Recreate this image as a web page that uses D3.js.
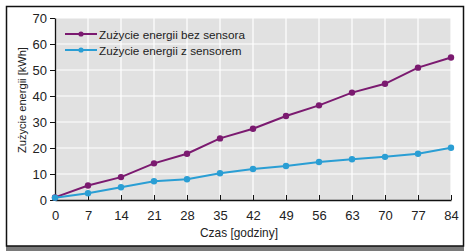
<!DOCTYPE html>
<html>
<head>
<meta charset="utf-8">
<script src="https://cdn.jsdelivr.net/npm/d3@7"></script>
<style>
  body { margin: 0; background: #fff; }
  svg { display: block; font-family: "Liberation Sans Narrow", "Liberation Sans", Arial, sans-serif; }
</style>
</head>
<body>
<div id="chart"></div>
<script>
const hours = [0, 7, 14, 21, 28, 35, 42, 49, 56, 63, 70, 77, 84];
const bezSensora = [1.0, 5.6, 8.8, 14.1, 17.8, 23.7, 27.4, 32.3, 36.4, 41.3, 44.7, 50.9, 54.8];
const zSensorem = [0.9, 2.6, 4.9, 7.2, 8.0, 10.3, 11.9, 13.1, 14.6, 15.7, 16.6, 17.8, 20.1];
const yTicks = [0, 10, 20, 30, 40, 50, 60, 70];
const seriesNames = ["Zużycie energii bez sensora", "Zużycie energii z sensorem"];
const seriesColors = ["#7b1a70", "#2a9ed4"];

const width = 470, height = 251;
const margin = { top: 18, right: 19, bottom: 51, left: 55 };
const innerWidth = width - margin.left - margin.right;
const innerHeight = height - margin.top - margin.bottom;

// shrink/grow a text's font so it spans roughly the given width
function fitText(sel, target) {
    const w = sel.node().getComputedTextLength();
    const fs = parseFloat(sel.style("font-size"));
    sel.style("font-size", (fs * target / w).toFixed(2) + "px");
}

const svg = d3.select("#chart").append("svg").attr("width", width).attr("height", height);

// frame with shadow at the bottom
svg.append("rect").attr("x", 6).attr("y", 246).attr("width", 458).attr("height", 5).attr("fill", "#7a7a7a");
svg.append("rect").attr("x", 6.5).attr("y", 6.5).attr("width", 457).attr("height", 239.5)
    .attr("fill", "#fff").attr("stroke", "#111").attr("stroke-width", 1.5);

const chart = svg.append("g").attr("transform", `translate(${margin.left},${margin.top})`);

const x = d3.scaleLinear().domain([0, 84]).range([0, innerWidth]);
const y = d3.scaleLinear().domain([0, 70]).range([innerHeight, 0]);

chart.append("rect").attr("width", innerWidth).attr("height", innerHeight).attr("fill", "#e1e1e1");

chart.append("g").selectAll("line").data(hours.slice(1)).enter().append("line")
    .attr("x1", d => x(d)).attr("x2", d => x(d)).attr("y1", 0).attr("y2", innerHeight)
    .attr("stroke", "#fff").attr("stroke-width", 1.2);
chart.append("g").selectAll("line").data(yTicks.slice(1)).enter().append("line")
    .attr("x1", 0).attr("x2", innerWidth).attr("y1", d => y(d)).attr("y2", d => y(d))
    .attr("stroke", "#fff").attr("stroke-width", 1.2);

const xAxis = chart.append("g").attr("transform", `translate(0,${innerHeight})`)
    .call(d3.axisBottom(x).tickValues(hours).tickSize(-5).tickPadding(11).tickSizeOuter(0));
const yAxis = chart.append("g")
    .call(d3.axisLeft(y).tickValues(yTicks).tickSize(5).tickPadding(3).tickSizeOuter(0));
[xAxis, yAxis].forEach(a => {
    a.selectAll("text").style("font-family", "'Liberation Sans', Arial, sans-serif")
        .style("font-size", "13px").style("fill", "#222");
    a.select(".domain").attr("stroke", "#111").attr("stroke-width", 1.3);
    a.selectAll(".tick line").attr("stroke", "#111");
});

const allSeries = [bezSensora, zSensorem];
const line = d3.line().x((d, i) => x(hours[i])).y(d => y(d));

allSeries.forEach((vals, k) => {
    chart.append("path").datum(vals).attr("fill", "none")
        .attr("stroke", seriesColors[k]).attr("stroke-width", 2).attr("d", line);
    chart.append("g").selectAll("circle").data(vals).enter().append("circle")
        .attr("cx", (d, i) => x(hours[i])).attr("cy", d => y(d)).attr("r", 3.2)
        .attr("fill", seriesColors[k]);
});

const legend = svg.append("g").attr("transform", "translate(65,34)");
seriesNames.forEach((name, k) => {
    const row = legend.append("g").attr("transform", `translate(0,${k * 16})`);
    row.append("line").attr("x1", 0).attr("x2", 32).attr("stroke", seriesColors[k]).attr("stroke-width", 2);
    row.append("circle").attr("cx", 16).attr("r", 2.6).attr("fill", seriesColors[k]);
    const t = row.append("text").attr("x", 34).attr("y", 4.5).style("font-size", "13px").style("fill", "#222").text(name);
    if (k === 0) fitText(t, 146);
    else t.style("font-size", legend.select("text").style("font-size"));
});

const xt = svg.append("text").attr("x", 239).attr("y", 237).attr("text-anchor", "middle")
    .style("font-size", "13px").style("fill", "#222").text("Czas [godziny]");
fitText(xt, 78);
const yt = svg.append("text").attr("transform", "translate(26,100) rotate(-90)").attr("text-anchor", "middle")
    .style("font-size", "13px").style("fill", "#222").text("Zużycie energii [kWh]");
fitText(yt, 106);
</script>
</body>
</html>
